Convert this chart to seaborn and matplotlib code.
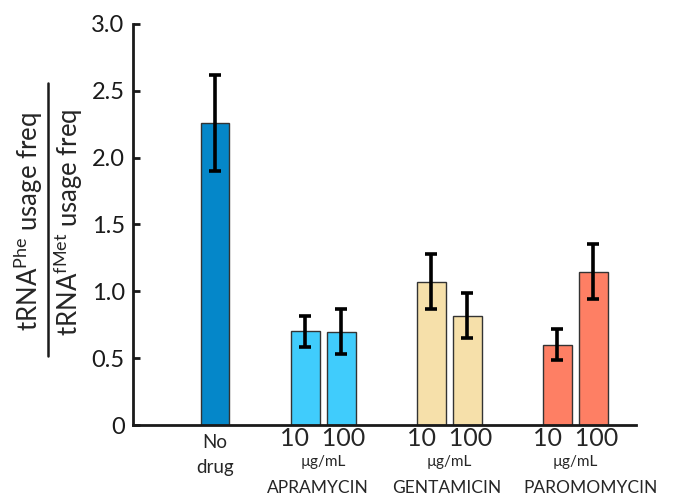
import matplotlib
matplotlib.use("Agg")
import matplotlib.pyplot as plt
import seaborn as sns
import pandas as pd
from matplotlib.lines import Line2D
from matplotlib.transforms import blended_transform_factory

# ---- data ----
conditions = ["No drug", "Apra 10", "Apra 100", "Gent 10", "Gent 100", "Paro 10", "Paro 100"]
drugs = ["none", "APRAMYCIN", "APRAMYCIN", "GENTAMICIN", "GENTAMICIN", "PAROMOMYCIN", "PAROMOMYCIN"]
positions = [0.0, 2.5, 3.5, 6.0, 7.0, 9.5, 10.5]
ratio = [2.26, 0.70, 0.695, 1.07, 0.818, 0.60, 1.147]
err_low = [0.36, 0.115, 0.165, 0.20, 0.168, 0.11, 0.207]
err_high = [0.36, 0.115, 0.17, 0.207, 0.172, 0.118, 0.207]
drug_names = ["APRAMYCIN", "GENTAMICIN", "PAROMOMYCIN"]
drug_centers = [3.0, 6.5, 10.0]
name_centers = [2.86, 6.44, 10.42]
dose_label = "10  100"
unit_label = "µg/mL"
palette = {"none": "#0587C9", "APRAMYCIN": "#40CCFC",
           "GENTAMICIN": "#F6E0AA", "PAROMOMYCIN": "#FE7F64"}
yticks = [0, 0.5, 1.0, 1.5, 2.0, 2.5, 3.0]
ytick_labels = ["0", "0.5", "1.0", "1.5", "2.0", "2.5", "3.0"]

df = pd.DataFrame({"pos": positions, "ratio": ratio, "drug": drugs, "cond": conditions})

sns.set_style("white")
FONT = "Lato"
plt.rcParams["font.family"] = [FONT, "DejaVu Sans"]
plt.rcParams["mathtext.fontset"] = "custom"
plt.rcParams["mathtext.rm"] = FONT
plt.rcParams["mathtext.it"] = FONT

fig = plt.figure(figsize=(6.78, 5.0), dpi=100)
ax = fig.add_axes([133 / 678, 1 - 425 / 500, (636 - 133) / 678, (425 - 24) / 500])

sns.barplot(data=df, x="pos", y="ratio", hue="drug", palette=palette, native_scale=True,
            dodge=False, width=0.8, edgecolor="#333333", linewidth=1.0, saturation=1,
            errorbar=None, legend=False, ax=ax)
ax.errorbar(positions, ratio, yerr=[err_low, err_high], fmt="none", ecolor="black",
            elinewidth=2.6, capsize=4.5, capthick=2.6, zorder=5)

ax.set_xlim(-2.28, 11.69)
ax.set_ylim(0, 3.0)
ax.set_yticks(yticks)
ax.set_yticklabels(ytick_labels, fontsize=17)
ax.set_xticks([])
ax.set_xlabel("")
ax.set_ylabel("")
for s in ["top", "right"]:
    ax.spines[s].set_visible(False)
for s in ["left", "bottom"]:
    ax.spines[s].set_linewidth(2.0)
    ax.spines[s].set_color("#1a1a1a")
ax.tick_params(axis="y", direction="in", length=5, width=2.0, color="#1a1a1a",
               left=True, pad=6, labelcolor="#1a1a1a")

tr = blended_transform_factory(ax.transData, fig.transFigure)
ax.text(0.0, 1 - 443 / 500, "No", transform=tr, ha="center", va="center", fontsize=13.5)
ax.text(0.0, 1 - 467 / 500, "drug", transform=tr, ha="center", va="center", fontsize=13.5)
for c, nc, name in zip(drug_centers, name_centers, drug_names):
    ax.text(c, 1 - 439 / 500, dose_label, transform=tr, ha="center", va="center", fontsize=18)
    ax.text(c, 1 - 462 / 500, unit_label, transform=tr, ha="center", va="center", fontsize=11)
    ax.text(nc, 1 - 488 / 500, name, transform=tr, ha="center", va="center", fontsize=12.5)

# fraction y-label
fig.text(45 / 678, 1 - 222 / 500, r"tRNA$^{\mathrm{Phe}}$ usage freq", rotation=90,
         ha="right", va="center", fontsize=18.5)
fig.text(85 / 678, 1 - 222 / 500, r"tRNA$^{\mathrm{fMet}}$ usage freq", rotation=90,
         ha="right", va="center", fontsize=18.5)
fig.add_artist(Line2D([48 / 678, 48 / 678], [1 - 83 / 500, 1 - 356 / 500],
                      transform=fig.transFigure, color="#1a1a1a", lw=1.8))

fig.savefig("out.png", dpi=100)
